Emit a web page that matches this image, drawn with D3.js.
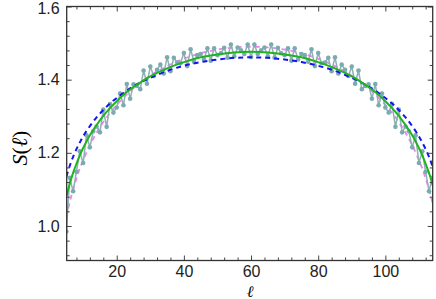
<!DOCTYPE html>
<html>
<head>
<meta charset="utf-8">
<script src="https://cdn.jsdelivr.net/npm/d3@7"></script>
<style>
  body { margin: 0; background: #fff; }
  svg { display: block; }
</style>
</head>
<body>
<svg width="436" height="299"></svg>
<script>
// data: S(l) for l = 5 .. 115
const ellFirst = 5;
const entropy = [
  0.985, 1.132, 1.095, 1.148, 1.204, 1.172, 1.248, 1.215, 1.259, 1.272,
  1.256, 1.318, 1.271, 1.333, 1.310, 1.324, 1.362, 1.330, 1.388, 1.348,
  1.387, 1.383, 1.374, 1.425, 1.389, 1.436, 1.410, 1.427, 1.441, 1.417,
  1.461, 1.423, 1.460, 1.447, 1.445, 1.473, 1.437, 1.483, 1.449, 1.467,
  1.470, 1.455, 1.486, 1.452, 1.486, 1.467, 1.472, 1.487, 1.460, 1.496,
  1.464, 1.488, 1.480, 1.470, 1.496, 1.462, 1.496, 1.470, 1.480, 1.488,
  1.464, 1.496, 1.460, 1.487, 1.472, 1.467, 1.486, 1.452, 1.486, 1.455,
  1.470, 1.467, 1.449, 1.483, 1.437, 1.473, 1.445, 1.447, 1.460, 1.423,
  1.461, 1.417, 1.441, 1.427, 1.410, 1.436, 1.389, 1.425, 1.374, 1.383,
  1.387, 1.348, 1.388, 1.330, 1.362, 1.324, 1.310, 1.333, 1.271, 1.318,
  1.256, 1.272, 1.259, 1.215, 1.248, 1.172, 1.204, 1.148, 1.095, 1.132,
  0.985
];

// smooth curves, sampled
const fitEll = [5, 6, 7, 8, 9, 10, 12, 14, 16, 18, 20, 23, 26, 30, 35, 40, 45, 50, 55, 60,
  65, 70, 75, 80, 85, 90, 94, 97, 100, 102, 104, 106, 108, 110, 111, 112, 113, 114, 115];
const fitGreen = [1.080, 1.115, 1.145, 1.170, 1.193, 1.213, 1.248, 1.276, 1.301, 1.322,
  1.341, 1.366, 1.386, 1.409, 1.431, 1.448, 1.461, 1.469, 1.4743, 1.476,
  1.4743, 1.469, 1.461, 1.448, 1.431, 1.409, 1.386, 1.366, 1.341, 1.322,
  1.301, 1.276, 1.248, 1.213, 1.193, 1.170, 1.145, 1.115, 1.080];
const fitBlue = [1.135, 1.164, 1.189, 1.210, 1.228, 1.245, 1.273, 1.297, 1.317, 1.335,
  1.350, 1.370, 1.387, 1.405, 1.424, 1.438, 1.448, 1.455, 1.4596, 1.461,
  1.4596, 1.455, 1.448, 1.438, 1.424, 1.405, 1.387, 1.370, 1.350, 1.335,
  1.317, 1.297, 1.273, 1.245, 1.228, 1.210, 1.189, 1.164, 1.135];
const fitViolet = [1.024, 1.065, 1.100, 1.130, 1.157, 1.180, 1.221, 1.255, 1.284, 1.309,
  1.331, 1.360, 1.384, 1.411, 1.437, 1.457, 1.472, 1.482, 1.488, 1.490,
  1.488, 1.482, 1.472, 1.457, 1.437, 1.411, 1.384, 1.360, 1.331, 1.309,
  1.284, 1.255, 1.221, 1.180, 1.157, 1.130, 1.100, 1.065, 1.024];

const xTicks = [20, 40, 60, 80, 100];
const yTicks = [1.0, 1.2, 1.4, 1.6];

let svg = d3.select("svg");
const margin = { top: 6.5, right: 3.3, bottom: 38.5, left: 66.7 };
const W = 436 - margin.left - margin.right,
  H = 299 - margin.top - margin.bottom;

const x = d3.scaleLinear().domain([5.1, 114.1]).range([0, W]);
const y = d3.scaleLinear().domain([0.9056, 1.6]).range([H, 0]);

let g = svg.append("g").attr("transform", `translate(${margin.left},${margin.top})`);

g.append("clipPath").attr("id", "clip")
  .append("rect").attr("width", W).attr("height", H);

const pts = entropy.map((v, i) => [ellFirst + i, v]);
const fits = (arr) => fitEll.map((l, i) => [l, arr[i]]);

let line = d3.line().x(d => x(d[0])).y(d => y(d[1]));
let smooth = d3.line().curve(d3.curveCatmullRom).x(d => x(d[0])).y(d => y(d[1]));

let plot = g.append("g").attr("clip-path", "url(#clip)");

// violet dashed
plot.append("path").datum(fits(fitViolet))
  .attr("d", smooth).attr("fill", "none")
  .attr("stroke", "#ee82ee").attr("stroke-width", 1.8)
  .attr("stroke-dasharray", "5,4");

// data line + markers
plot.append("path").datum(pts)
  .attr("d", line).attr("fill", "none")
  .attr("stroke", "#8fb0b4").attr("stroke-width", 1.5);
plot.selectAll("circle").data(pts).enter().append("circle")
  .attr("cx", d => x(d[0])).attr("cy", d => y(d[1])).attr("r", 2.3)
  .attr("fill", "#7aabb1");

// blue dashed
plot.append("path").datum(fits(fitBlue))
  .attr("d", smooth).attr("fill", "none")
  .attr("stroke", "#1414f0").attr("stroke-width", 2)
  .attr("stroke-dasharray", "5,4");

// green solid
plot.append("path").datum(fits(fitGreen))
  .attr("d", smooth).attr("fill", "none")
  .attr("stroke", "#1fb31f").attr("stroke-width", 2);

// axes, ticks inward on all sides
const font = "'Liberation Sans', Arial, sans-serif";
function styleAxis(sel) {
  sel.select(".domain").remove();
  sel.selectAll("line").attr("stroke", "#444").attr("stroke-width", 1);
  sel.selectAll("text").style("font-family", font).style("font-size", "16px").attr("fill", "#222");
}
const xMinor = d3.range(8, 114, 4).filter(v => v % 20 !== 0);
const yMinor = d3.range(0.92, 1.6, 0.04).filter(v => Math.abs(v * 5 - Math.round(v * 5)) > 1e-6);

g.append("g").attr("transform", `translate(0,${H})`)
  .call(d3.axisBottom(x).tickValues(xTicks).tickFormat(d3.format("d")).tickSize(-5).tickPadding(5))
  .call(styleAxis);
g.append("g").attr("transform", `translate(0,${H})`)
  .call(d3.axisBottom(x).tickValues(xMinor).tickFormat("").tickSize(-3)).call(styleAxis);
g.append("g")
  .call(d3.axisTop(x).tickValues(xTicks).tickFormat("").tickSize(-5)).call(styleAxis);
g.append("g")
  .call(d3.axisTop(x).tickValues(xMinor).tickFormat("").tickSize(-3)).call(styleAxis);

let yAxis = g.append("g")
  .call(d3.axisLeft(y).tickValues(yTicks).tickFormat(d3.format(".1f")).tickSize(-5).tickPadding(7))
  .call(styleAxis);
// keep the top label inside the picture
yAxis.selectAll("text").filter(d => d === 1.6).attr("dy", "0.42em");
g.append("g")
  .call(d3.axisLeft(y).tickValues(yMinor).tickFormat("").tickSize(-3)).call(styleAxis);
g.append("g").attr("transform", `translate(${W},0)`)
  .call(d3.axisRight(y).tickValues(yTicks).tickFormat("").tickSize(-5)).call(styleAxis);
g.append("g").attr("transform", `translate(${W},0)`)
  .call(d3.axisRight(y).tickValues(yMinor).tickFormat("").tickSize(-3)).call(styleAxis);

// frame
g.append("rect").attr("width", W).attr("height", H)
  .attr("fill", "none").attr("stroke", "#333").attr("stroke-width", 1.3);

// axis titles
svg.append("text")
  .attr("x", 250).attr("y", 297)
  .attr("text-anchor", "middle")
  .style("font-family", "'Liberation Serif', 'DejaVu Serif', serif")
  .style("font-style", "italic").style("font-size", "16px")
  .text("ℓ");

svg.append("text")
  .attr("transform", "translate(27,148) rotate(-90)")
  .attr("text-anchor", "middle")
  .style("font-family", "'Liberation Serif', 'DejaVu Serif', serif")
  .style("font-size", "22px")
  .html('<tspan font-style="italic">S</tspan>(<tspan font-style="italic">ℓ</tspan>)');
</script>
</body>
</html>
